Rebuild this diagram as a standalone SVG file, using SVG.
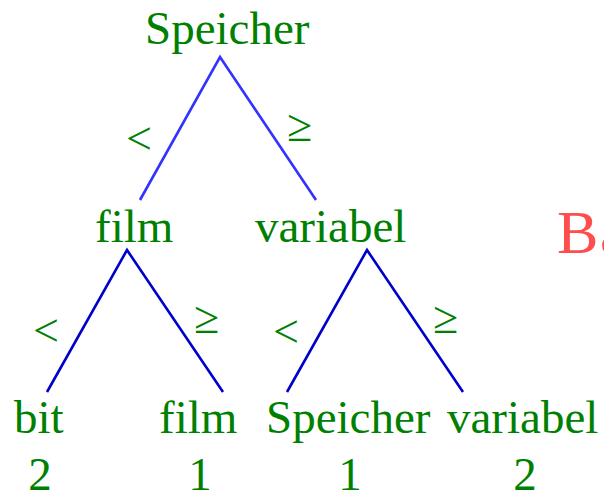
<svg xmlns="http://www.w3.org/2000/svg" width="604" height="492" viewBox="0 0 604 492">
<style>
  .t { font-family: "Liberation Serif", "Times New Roman", serif; font-size: 47px; fill: #008000; }
  .op { font-family: "Liberation Serif", "Times New Roman", serif; font-size: 46px; fill: #008000; }
  .num { font-family: "Liberation Serif", "Times New Roman", serif; font-size: 47px; fill: #008000; text-anchor: middle; }
  .e1 { stroke: #3333ff; stroke-width: 2.6; fill: none; }
  .e2 { stroke: #0000cc; stroke-width: 2.6; fill: none; }
  .red { font-family: "Liberation Serif", "Times New Roman", serif; font-size: 62px; fill: #ff4d4d; }
</style>
<rect width="604" height="492" fill="#ffffff"/>
<g id="connectors">
  <polyline class="e1" points="140,200 220,57 316,200"/>
  <polyline class="e2" points="47,392 127,250 223,392"/>
  <polyline class="e2" points="287,392 367,250 463,392"/>
  <text class="op" x="126" y="154">&lt;</text>
  <text class="op" x="287" y="141">≥</text>
  <text class="op" x="33" y="346">&lt;</text>
  <text class="op" x="194" y="333">≥</text>
  <text class="op" x="273" y="347">&lt;</text>
  <text class="op" x="433" y="333">≥</text>
</g>
<g id="root"><text class="t" x="145" y="44">Speicher</text></g>
<g id="mid-film"><text class="t" x="95" y="242">film</text></g>
<g id="mid-variabel"><text class="t" x="255" y="242">variabel</text></g>
<g id="leaf-bit"><text class="t" x="14" y="433">bit</text><text class="num" x="40" y="490">2</text></g>
<g id="leaf-film"><text class="t" x="159" y="433">film</text><text class="num" x="200" y="490">1</text></g>
<g id="leaf-speicher"><text class="t" x="266" y="433">Speicher</text><text class="num" x="350" y="490">1</text></g>
<g id="leaf-variabel"><text class="t" x="447" y="433">variabel</text><text class="num" x="525" y="490">2</text></g>
<text class="red" x="557" y="253">B<tspan x="600">a</tspan></text>
</svg>
